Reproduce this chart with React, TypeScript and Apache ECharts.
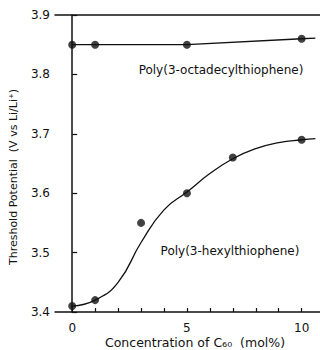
import React, { useEffect, useRef } from "react";
import * as echarts from "echarts";

// Measured points
const octadecylX = [0, 1, 5, 10];
const octadecylY = [3.85, 3.85, 3.85, 3.86];
const hexylX = [0, 1, 3, 5, 7, 10];
const hexylY = [3.41, 3.42, 3.55, 3.6, 3.66, 3.69];

// Drawn guide lines
const octadecylLineX = [0, 1, 5, 10, 10.6];
const octadecylLineY = [3.85, 3.85, 3.85, 3.86, 3.861];
const hexylFitX = [0, 1, 2, 3, 4, 5, 6, 7, 8, 9, 10, 10.6];
const hexylFitY = [3.41, 3.42, 3.45, 3.517, 3.572, 3.602, 3.633, 3.658, 3.675, 3.685, 3.69, 3.692];

const xLabelValues = [0, 5, 10];
const xTickValues = [0, 1, 2, 3, 4, 5, 6, 7, 8, 9, 10];
const yTickValues = [3.4, 3.5, 3.6, 3.7, 3.8, 3.9];

const labelOctadecyl = "Poly(3-octadecylthiophene)";
const labelHexyl = "Poly(3-hexylthiophene)";
const yTitle = "Threshold Potential  (V vs Li/Li⁺)";
const xTitle = "Concentration of C₆₀  (mol%)";

const FONT = "DejaVu Sans";
const INK = "#111";

export default function App() {
  const ref = useRef<HTMLDivElement>(null);
  useEffect(() => {
    if (!ref.current) return;
    const chart = echarts.init(ref.current, undefined, { renderer: "svg" });
    const zip = (xs: number[], ys: number[]) => xs.map((x, i) => [x, ys[i]]);
    chart.setOption({
      animation: false,
      backgroundColor: "#fff",
      grid: { left: 55, right: 0, top: 15, bottom: 38 },
      xAxis: [
        {
          type: "value",
          min: -0.75,
          max: 10.8,
          axisLine: { lineStyle: { color: INK, width: 1.5 } },
          axisTick: { customValues: xTickValues, inside: true, length: 4, lineStyle: { color: INK, width: 1.2 } },
          axisLabel: {
            customValues: xLabelValues,
            margin: 10,
            color: INK,
            fontFamily: FONT,
            fontSize: 12,
          },
          splitLine: { show: false },
        },
        {
          type: "value",
          position: "top",
          min: -0.75,
          max: 10.8,
          axisLine: { show: true, lineStyle: { color: INK, width: 1.5 } },
          axisTick: { show: false },
          axisLabel: { show: false },
          splitLine: { show: false },
        },
      ],
      yAxis: {
        type: "value",
        min: 3.4,
        max: 3.9,
        axisLine: { show: true, lineStyle: { color: INK, width: 1.5 } },
        axisTick: { customValues: yTickValues, inside: true, length: 5, lineStyle: { color: INK, width: 1.2 } },
        axisLabel: {
          customValues: yTickValues,
          formatter: (v: number) => v.toFixed(1),
          margin: 5,
          color: INK,
          fontFamily: FONT,
          fontSize: 12,
        },
        splitLine: { show: false },
      },
      series: [
        {
          type: "line",
          data: zip(octadecylLineX, octadecylLineY),
          showSymbol: false,
          lineStyle: { color: INK, width: 1.3 },
        },
        {
          type: "scatter",
          data: zip(octadecylX, octadecylY),
          symbolSize: 8,
          itemStyle: { color: INK },
        },
        {
          type: "line",
          data: zip(hexylFitX, hexylFitY),
          smooth: 0.5,
          showSymbol: false,
          lineStyle: { color: INK, width: 1.3 },
        },
        {
          type: "scatter",
          data: zip(hexylX, hexylY),
          symbolSize: 8,
          itemStyle: { color: INK },
        },
      ],
      graphic: [
        {
          type: "text",
          x: 221,
          y: 70,
          style: { text: labelOctadecyl, font: `12px "${FONT}"`, fill: INK, textAlign: "center", textVerticalAlign: "middle" },
        },
        {
          type: "text",
          x: 230,
          y: 251,
          style: { text: labelHexyl, font: `12px "${FONT}"`, fill: INK, textAlign: "center", textVerticalAlign: "middle" },
        },
        {
          type: "text",
          x: 13,
          y: 177,
          rotation: Math.PI / 2,
          style: { text: yTitle, font: `11px "${FONT}"`, fill: INK, textAlign: "center", textVerticalAlign: "middle" },
        },
        {
          type: "text",
          x: 195,
          y: 342,
          style: { text: xTitle, font: `12.5px "${FONT}"`, fill: INK, textAlign: "center", textVerticalAlign: "middle" },
        },
      ],
    });
    return () => chart.dispose();
  }, []);
  return <div ref={ref} style={{ position: "fixed", left: 0, top: 0, width: 320, height: 350 }} />;
}
